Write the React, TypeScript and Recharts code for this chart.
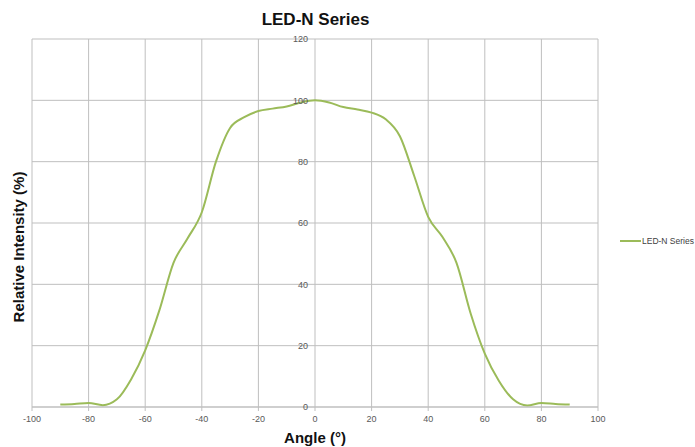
import { LineChart, Line, XAxis, YAxis, CartesianGrid, Legend, ReferenceDot } from 'recharts'

const angles = [-90, -85, -80, -75, -70, -65, -60, -55, -50, -45, -40, -35, -30, -25, -20, -15, -10, -5, 0, 5, 10, 15, 20, 25, 30, 35, 40, 45, 50, 55, 60, 65, 70, 75, 80, 85, 90]
const intensity = [0.8, 1.0, 1.3, 0.6, 2.5, 9, 18.5, 31.5, 47, 55, 63.5, 80, 91, 94.5, 96.5, 97.3, 98, 99.3, 100, 99.3, 97.8, 97, 96, 93.8, 88.3, 75.5, 62, 55.5, 47, 30.5, 17.4, 8.5, 2.5, 0.5, 1.3, 1.0, 0.8]
const xTicks = [-100, -80, -60, -40, -20, 0, 20, 40, 60, 80, 100]
const yTicks = [0, 20, 40, 60, 80, 100, 120]

const data = angles.map((a, i) => ({ angle: a, value: intensity[i] }))

const FONT = '"Liberation Sans", Arial, sans-serif'
const GREEN = '#9bbb59'
const GRID = '#bfbfbf'
const TICK = '#595959'

const renderLegend = () => (
  <div style={{ display: 'flex', alignItems: 'center', fontFamily: FONT, fontSize: 8.5, color: '#404040' }}>
    <svg width={21} height={4} style={{ marginRight: 1 }}>
      <line x1={0} y1={2} x2={21} y2={2} stroke={GREEN} strokeWidth={2} />
    </svg>
    <span>LED-N Series</span>
  </div>
)

export default function App() {
  return (
    <div style={{ position: 'absolute', left: 0, top: 0, width: 695, height: 447, background: '#fff' }}>
      <div style={{ position: 'absolute', left: 32, top: 11, width: 567, textAlign: 'center', fontFamily: FONT, fontWeight: 'bold', fontSize: 17, lineHeight: '17px', color: '#111' }}>
        LED-N Series
      </div>
      <div style={{ position: 'absolute', left: 18, top: 247, transform: 'translate(-50%, -50%) rotate(-90deg)', whiteSpace: 'nowrap', fontFamily: FONT, fontWeight: 'bold', fontSize: 15, lineHeight: '15px', color: '#111' }}>
        Relative Intensity (%)
      </div>
      <LineChart width={695} height={447} data={data} margin={{ top: 39, right: 97, left: 32, bottom: 0 }}>
        <CartesianGrid stroke={GRID} strokeWidth={1} />
        <XAxis
          dataKey="angle"
          type="number"
          domain={[-100, 100]}
          ticks={xTicks}
          height={40}
          tickSize={4}
          tickMargin={5}
          axisLine={{ stroke: GRID }}
          tickLine={{ stroke: GRID }}
          tick={{ fontSize: 9, fill: TICK, fontFamily: FONT }}
          label={{ value: 'Angle (°)', position: 'insideBottom', offset: 4, fontSize: 15, fontWeight: 'bold', fill: '#111', fontFamily: FONT }}
        />
        <YAxis type="number" domain={[0, 120]} ticks={yTicks} hide width={0} />
        {yTicks.map((t) => (
          <ReferenceDot
            key={t}
            x={0}
            y={t}
            r={1}
            fill="none"
            stroke="none"
            label={{ value: t, position: 'left', offset: 6, fontSize: 9, fill: TICK, fontFamily: FONT }}
          />
        ))}
        <Line type="monotone" dataKey="value" name="LED-N Series" stroke={GREEN} strokeWidth={2} dot={false} isAnimationActive={false} />
        <Legend layout="vertical" align="center" verticalAlign="middle" content={renderLegend} wrapperStyle={{ left: 620, top: 236, width: 75 }} />
      </LineChart>
    </div>
  )
}
